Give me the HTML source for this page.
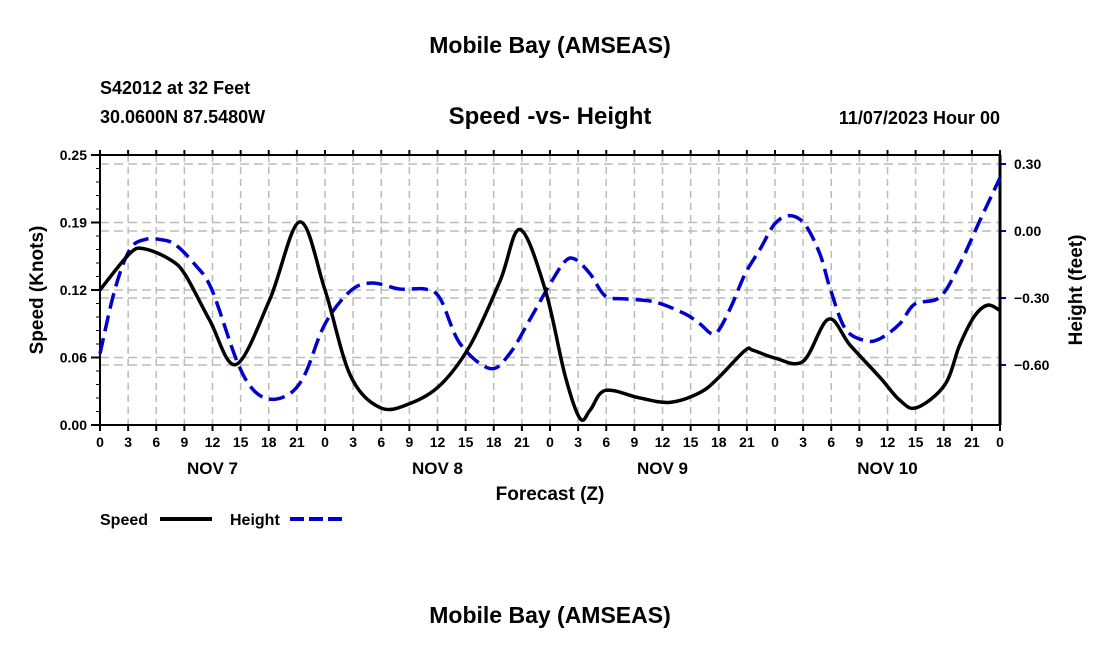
<!DOCTYPE html>
<html><head><meta charset="utf-8"><style>
body{margin:0;background:#fff;}
svg{display:block;font-family:"Liberation Sans",sans-serif;font-weight:bold;}
</style></head><body>
<svg id="c" width="1100" height="650">
<text x="550" y="53" text-anchor="middle" font-size="23">Mobile Bay (AMSEAS)</text>
<text x="100" y="94" font-size="18">S42012 at 32 Feet</text>
<text x="100" y="123" font-size="18">30.0600N  87.5480W</text>
<text x="550" y="124" text-anchor="middle" font-size="24">Speed -vs- Height</text>
<text x="1000" y="124" text-anchor="end" font-size="18">11/07/2023 Hour 00</text>
<g id="grid"></g><g id="axes"></g><g id="series"></g>
<text x="550" y="500" text-anchor="middle" font-size="19">Forecast (Z)</text>
<text transform="translate(43,290) rotate(-90)" text-anchor="middle" font-size="19">Speed (Knots)</text>
<text transform="translate(1082,290) rotate(-90)" text-anchor="middle" font-size="19">Height (feet)</text>
<g>
<text x="100" y="525" font-size="16">Speed</text>
<line x1="160" y1="519" x2="212" y2="519" stroke="#000" stroke-width="4"/>
<text x="230" y="525" font-size="16">Height</text>
<line x1="290" y1="519" x2="342" y2="519" stroke="#00c" stroke-width="4" stroke-dasharray="14,5"/>
</g>
<text x="550" y="623" text-anchor="middle" font-size="23">Mobile Bay (AMSEAS)</text>
</svg>
<script>
const speedHours=[0,3.2,4.8,7.5,9.1,11.7,14.5,18.1,21.3,24,26.7,29.9,33.1,36.3,39.5,42.7,44.8,47.5,49.6,51.2,52.3,53.9,57.6,60.8,64,66,68.8,69.7,72,75,77.7,80,83.2,85.3,87.1,90.1,91.7,93.3,94.7,96];
const speedValues=[0.125,0.159,0.163,0.153,0.139,0.097,0.056,0.116,0.188,0.125,0.046,0.016,0.020,0.037,0.074,0.134,0.181,0.125,0.046,0.006,0.014,0.032,0.025,0.021,0.030,0.044,0.069,0.069,0.062,0.059,0.098,0.074,0.044,0.023,0.016,0.037,0.074,0.101,0.111,0.106];
const heightHours=[0,1.6,3.2,4.8,6.4,8,10.1,11.9,14.5,16.2,18.1,20.3,21.9,24,26.7,29,32,34.7,36.3,38.4,41.6,43.7,45.9,48,49.6,50.7,52.3,53.9,56,59.2,62.4,64,65.6,67.2,68.8,70.4,72,73.6,75.2,76.8,77.9,79.5,81.6,83.2,85.3,86.9,89.6,91.7,93.9,96];
const heightValues=[-0.549,-0.26,-0.082,-0.038,-0.038,-0.06,-0.149,-0.26,-0.571,-0.704,-0.753,-0.727,-0.638,-0.416,-0.269,-0.233,-0.26,-0.26,-0.304,-0.504,-0.616,-0.549,-0.393,-0.238,-0.136,-0.127,-0.193,-0.291,-0.304,-0.318,-0.371,-0.416,-0.46,-0.349,-0.193,-0.082,0.033,0.069,0.029,-0.104,-0.26,-0.438,-0.491,-0.482,-0.416,-0.327,-0.296,-0.149,0.051,0.238];
const xTickLabels=["0","3","6","9","12","15","18","21"];
const dayLabels=["NOV 7","NOV 8","NOV 9","NOV 10"];
const leftTicks=[0,0.0625,0.125,0.1875,0.25];
const leftTickLabels=["0.00","0.06","0.12","0.19","0.25"];
const rightTicks=[0.3,0,-0.3,-0.6];
const rightTickLabels=["0.30","0.00","\u22120.30","\u22120.60"];

const L=100,R=1000,T=155,B=425;
const X=h=>L+(R-L)*h/96;
const YS=v=>B-(B-T)*v/0.25;
const YH=v=>231-(231-164)*v/0.3;
const NS="http://www.w3.org/2000/svg";
function mk(tag,attrs,parent){const e=document.createElementNS(NS,tag);for(const k in attrs)e.setAttribute(k,attrs[k]);parent.appendChild(e);return e;}
const grid=document.getElementById('grid'),axes=document.getElementById('axes'),series=document.getElementById('series');

for(let h=3;h<96;h+=3){
  const g=mk('line',{x1:X(h),x2:X(h),y1:T,y2:B,stroke:'#bbb','stroke-width':1.5,'stroke-dasharray':'7,5'},grid);
  
  
}
leftTicks.slice(1,-1).forEach(v=>{
  const g=mk('line',{x1:L,x2:R,y1:YS(v),y2:YS(v),stroke:'#bbb','stroke-width':1.5,'stroke-dasharray':'9,5'},grid);
  
  
});
rightTicks.forEach(v=>{
  const g=mk('line',{x1:L,x2:R,y1:YH(v),y2:YH(v),stroke:'#bbb','stroke-width':1.5,'stroke-dasharray':'9,5'},grid);
  
  
});

const frame=mk('rect',{x:L,y:T,width:R-L,height:B-T,fill:'none',stroke:'#000','stroke-width':2},axes);


mk('line',{x1:L,x2:R,y1:T,y2:T,stroke:'#000','stroke-width':2,'stroke-dasharray':'2,3'},axes);

for(let h=0;h<=96;h+=3){
  const x=X(h);
  mk('line',{x1:x,x2:x,y1:B,y2:B+6,stroke:'#000','stroke-width':2},axes);
  mk('line',{x1:x,x2:x,y1:T,y2:T-5,stroke:'#000','stroke-width':2},axes);
  const t=mk('text',{x:x,y:B+22,'text-anchor':'middle','font-size':14},axes);
  t.textContent=xTickLabels[(h/3)%8];
  
  
}
dayLabels.forEach((d,i)=>{
  const t=mk('text',{x:X(24*i+12),y:474,'text-anchor':'middle','font-size':17},axes);
  t.textContent=d;
  
  
});
for(let v=0;v<=0.25001;v+=0.25/20){mk('line',{x1:L-4,x2:L,y1:YS(v),y2:YS(v),stroke:'#000','stroke-width':1},axes);}
leftTicks.forEach((v,i)=>{
  mk('line',{x1:L-9,x2:L,y1:YS(v),y2:YS(v),stroke:'#000','stroke-width':2},axes);
  const t=mk('text',{x:L-13,y:YS(v)+5,'text-anchor':'end','font-size':14},axes);
  t.textContent=leftTickLabels[i];
  
  
});
rightTicks.forEach((v,i)=>{
  mk('line',{x1:R,x2:R+6,y1:YH(v),y2:YH(v),stroke:'#00c','stroke-width':2},axes);
  const t=mk('text',{x:R+14,y:YH(v)+5,'font-size':14},axes);
  t.textContent=rightTickLabels[i];
  
  
});

function smooth(pts){
  let d=`M${pts[0][0]},${pts[0][1]}`;
  for(let i=0;i<pts.length-1;i++){
    const p0=pts[Math.max(0,i-1)],p1=pts[i],p2=pts[i+1],p3=pts[Math.min(pts.length-1,i+2)];
    const c1=[p1[0]+(p2[0]-p0[0])/6,p1[1]+(p2[1]-p0[1])/6];
    const c2=[p2[0]-(p3[0]-p1[0])/6,p2[1]-(p3[1]-p1[1])/6];
    d+=` C${c1[0]},${c1[1]} ${c2[0]},${c2[1]} ${p2[0]},${p2[1]}`;
  }
  return d;
}
const hp=mk('path',{d:smooth(heightHours.map((h,i)=>[X(h),YH(heightValues[i])])),fill:'none',stroke:'#00c','stroke-width':3.5,'stroke-dasharray':'16,7'},series);


const sp=mk('path',{d:smooth(speedHours.map((h,i)=>[X(h),YS(speedValues[i])])),fill:'none',stroke:'#000','stroke-width':3.5},series);


const ra=mk('line',{x1:R,x2:R,y1:T,y2:B,stroke:'#000','stroke-width':3},axes);
</script>
</body></html>
